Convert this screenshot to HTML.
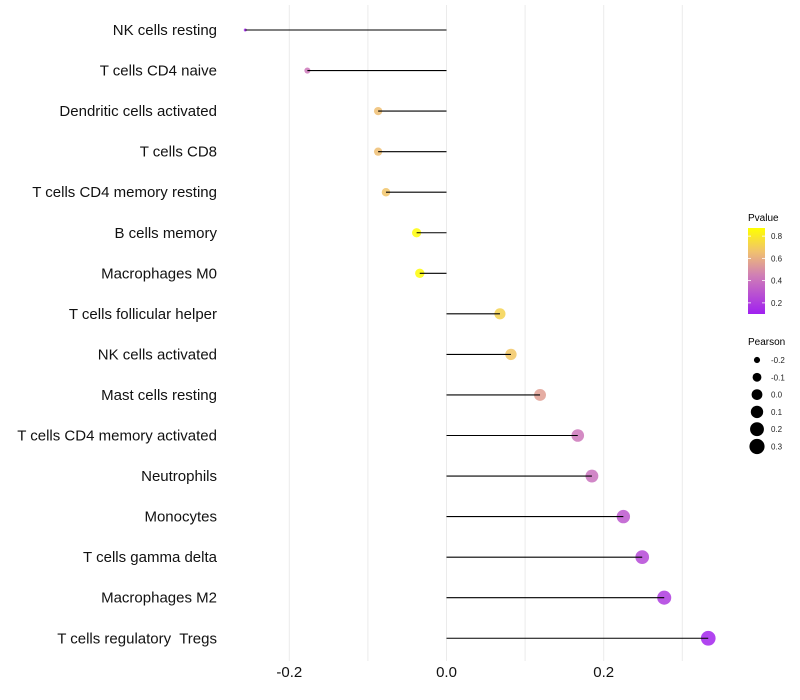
<!DOCTYPE html>
<html><head><meta charset="utf-8"><style>
body{margin:0;background:#fff;}
svg{font-family:"Liberation Sans",sans-serif;display:block}
text{white-space:pre}
</style></head><body>
<svg id="chart" width="800" height="700">
<defs><linearGradient id="pg" x1="0" y1="1" x2="0" y2="0">
<stop offset="0" stop-color="#a020f0"/><stop offset="0.45" stop-color="#d07fb5"/><stop offset="0.72" stop-color="#f0c070"/><stop offset="1" stop-color="#ffff00"/></linearGradient></defs>
<g id="grid"></g>
<g id="marks"></g>
<g id="ylab"></g>
<g id="xlab"></g>
<g>
<text x="748" y="221" font-size="10">Pvalue</text>
<rect x="748" y="228" width="17" height="86" fill="url(#pg)"/>
<g id="cbticks"></g>
</g>
<g id="sizeleg">
<text x="748" y="345" font-size="10">Pearson</text>
</g>
</svg>
<script>
const categories=["NK cells resting","T cells CD4 naive","Dendritic cells activated","T cells CD8","T cells CD4 memory resting","B cells memory","Macrophages M0","T cells follicular helper","NK cells activated","Mast cells resting","T cells CD4 memory activated","Neutrophils","Monocytes","T cells gamma delta","Macrophages M2","T cells regulatory  Tregs"];
const pearson=[-0.256,-0.177,-0.087,-0.087,-0.077,-0.038,-0.034,0.068,0.082,0.119,0.167,0.185,0.225,0.249,0.277,0.333];
const pvalues=[0.12,0.42,0.65,0.65,0.67,0.86,0.86,0.72,0.68,0.55,0.42,0.4,0.3,0.25,0.2,0.12];
const xTicks=[-0.2,0,0.2];
const xTickLabels=["-0.2","0.0","0.2"];
const gridVals=[-0.2,-0.1,0,0.1,0.2,0.3];
const cbTicks=[0.2,0.4,0.6,0.8];
const sizeLegend=[-0.2,-0.1,0.0,0.1,0.2,0.3];
const NS="http://www.w3.org/2000/svg";
const X=v=>446.5+v*786;
const Y=i=>30+i*40.55;
const pmin=0.1,pmax=0.873;
const stops=[[0,[160,32,240]],[0.45,[208,127,181]],[0.72,[240,192,112]],[1,[255,255,0]]];
function col(p){let t=Math.max(0,Math.min(1,(p-pmin)/(pmax-pmin)));for(let k=1;k<stops.length;k++){if(t<=stops[k][0]){const a=stops[k-1],b=stops[k];const f=(t-a[0])/(b[0]-a[0]);return 'rgb('+a[1].map((c,j)=>Math.round(c+(b[1][j]-c)*f)).join(',')+')';}}return 'rgb(255,255,0)';}
const smin=-0.256,smax=0.333;
function R(v){const t=Math.max(0,(v-smin)/(smax-smin));return Math.sqrt(2.25+t*52);}
function mk(tag,attrs,parent){const e=document.createElementNS(NS,tag);for(const k in attrs)e.setAttribute(k,attrs[k]);parent.appendChild(e);return e;}
const grid=document.getElementById('grid');
gridVals.forEach(v=>{const l=mk('line',{x1:X(v),x2:X(v),y1:5,y2:661,stroke:'#ebebeb','stroke-width':1},grid);

});
const marks=document.getElementById('marks'),ylab=document.getElementById('ylab');
categories.forEach((c,i)=>{
const y=Y(i);
const pt=mk('circle',{cx:X(pearson[i]),cy:y,r:R(pearson[i]),fill:col(pvalues[i]),'fill-opacity':0.85},marks);


const seg=mk('line',{x1:X(0),x2:X(pearson[i]),y1:y,y2:y,stroke:'#000','stroke-width':1.1},marks);


const t=mk('text',{x:217,y:y+5,'text-anchor':'end','font-size':15,fill:'#111'},ylab);t.textContent=c;


});
const xl=document.getElementById('xlab');
xTicks.forEach((v,i)=>{const t=mk('text',{x:X(v),y:677,'text-anchor':'middle','font-size':15,fill:'#111'},xl);t.textContent=xTickLabels[i];

});
const cb=document.getElementById('cbticks');
cbTicks.forEach(v=>{const y=314-(v-pmin)/(pmax-pmin)*86;
mk('line',{x1:748,x2:751,y1:y,y2:y,stroke:'#fff','stroke-width':0.8},cb);
mk('line',{x1:762,x2:765,y1:y,y2:y,stroke:'#fff','stroke-width':0.8},cb);
const t=mk('text',{x:771,y:y+3,'font-size':8,fill:'#222'},cb);t.textContent=v.toFixed(1);

});
const sl=document.getElementById('sizeleg');
sizeLegend.forEach((v,i)=>{const y=360+i*17.3;
const c=mk('circle',{cx:757,cy:y,r:R(v)+0.4,fill:'#000'},sl);


const t=mk('text',{x:771,y:y+3,'font-size':8,fill:'#222'},sl);t.textContent=v.toFixed(1);

});
</script>
</body></html>
